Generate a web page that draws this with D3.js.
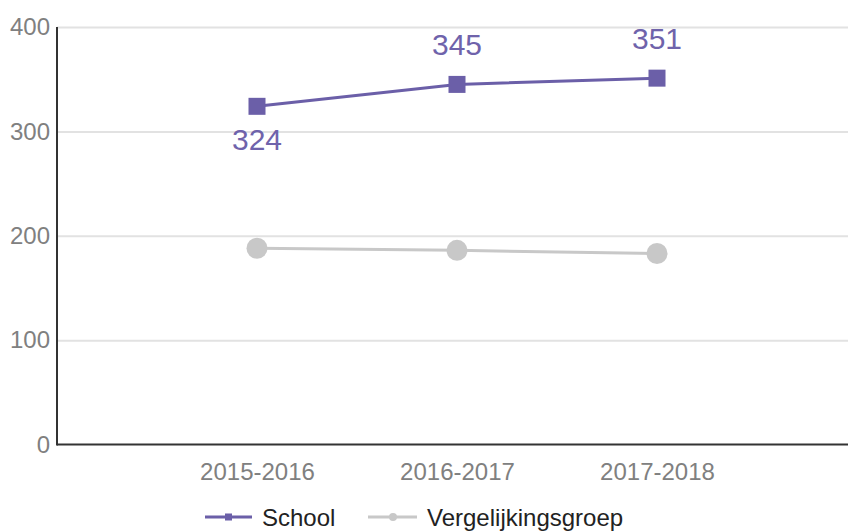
<!DOCTYPE html>
<html>
<head>
<meta charset="utf-8">
<script src="https://cdn.jsdelivr.net/npm/d3@7"></script>
<style>
  body { margin: 0; background: #fff; }
  svg { display: block; font-family: "Liberation Sans", Arial, sans-serif; }
  .grid line { stroke: #e2e2e2; stroke-width: 2; }
  .grid .domain { display: none; }
  .ticks text { fill: #808080; font-size: 24px; }
  .ticks line, .ticks .domain { display: none; }
</style>
</head>
<body>
<svg width="848" height="532"></svg>
<script>
var categories = ["2015-2016", "2016-2017", "2017-2018"];
var schoolValues = [324, 345, 351];
var vergelijkValues = [188, 186, 183];
var yTicks = [0, 100, 200, 300, 400];
var seriesNames = ["School", "Vergelijkingsgroep"];

var purple = "#6b5fa8";
var grey = "#c8c8c8";

var svg = d3.select("svg");

// plot edges (don't call it "top", that's window.top)
var plotL = 57, plotR = 857, plotT = 27, plotB = 444.5;

var x = d3.scalePoint()
    .domain(categories)
    .range([plotL, plotR])
    .padding(1);

var y = d3.scaleLinear()
    .domain([0, 400])
    .range([plotB, plotT]);

// gridlines
svg.append("g")
    .attr("class", "grid")
    .attr("transform", "translate(" + plotL + ",0)")
    .call(d3.axisLeft(y).tickValues(yTicks.slice(1)).tickSize(-(848 - plotL)).tickFormat(""));

// y tick labels
svg.append("g")
    .attr("class", "ticks")
    .attr("transform", "translate(" + plotL + ",0)")
    .call(d3.axisLeft(y).tickValues(yTicks).tickSize(0).tickPadding(7));

// x tick labels
svg.append("g")
    .attr("class", "ticks")
    .attr("transform", "translate(0," + plotB + ")")
    .call(d3.axisBottom(x).tickSize(0).tickPadding(18));

// axis lines
svg.append("line")
    .attr("x1", plotL).attr("x2", plotL)
    .attr("y1", plotT).attr("y2", plotB + 1)
    .attr("stroke", "#333").attr("stroke-width", 2);
svg.append("line")
    .attr("x1", plotL).attr("x2", 848)
    .attr("y1", plotB).attr("y2", plotB)
    .attr("stroke", "#333").attr("stroke-width", 2);

var line = d3.line()
    .x(function(d, i) { return x(categories[i]); })
    .y(function(d) { return y(d); });

// comparison group
svg.append("path")
    .datum(vergelijkValues)
    .attr("fill", "none")
    .attr("stroke", grey)
    .attr("stroke-width", 3)
    .attr("d", line);
svg.selectAll(".vdot")
    .data(vergelijkValues)
    .enter().append("circle")
    .attr("class", "vdot")
    .attr("cx", function(d, i) { return x(categories[i]); })
    .attr("cy", function(d) { return y(d); })
    .attr("r", 10.5)
    .attr("fill", grey);

// school
svg.append("path")
    .datum(schoolValues)
    .attr("fill", "none")
    .attr("stroke", purple)
    .attr("stroke-width", 3)
    .attr("d", line);
svg.selectAll(".sdot")
    .data(schoolValues)
    .enter().append("rect")
    .attr("class", "sdot")
    .attr("x", function(d, i) { return x(categories[i]) - 8.5; })
    .attr("y", function(d) { return y(d) - 8.5; })
    .attr("width", 17)
    .attr("height", 17)
    .attr("fill", purple);

// labels: first one below the point, rest above
svg.selectAll(".slabel")
    .data(schoolValues)
    .enter().append("text")
    .attr("class", "slabel")
    .attr("x", function(d, i) { return x(categories[i]); })
    .attr("y", function(d, i) { return i == 0 ? y(d) + 44 : y(d) - 29; })
    .attr("text-anchor", "middle")
    .attr("font-size", "30px")
    .attr("fill", "#6f63ab")
    .text(function(d) { return d; });

// legend
var lg = svg.append("g").attr("class", "legend");
var s = lg.append("g");
s.append("line").attr("x1", 205).attr("x2", 252).attr("y1", 517).attr("y2", 517)
    .attr("stroke", purple).attr("stroke-width", 3);
s.append("rect").attr("x", 225).attr("y", 513.5).attr("width", 7).attr("height", 7).attr("fill", purple);
s.append("text").attr("x", 262).attr("y", 526).attr("font-size", "24px").attr("fill", "#222").text(seriesNames[0]);

var v = lg.append("g");
v.append("line").attr("x1", 368).attr("x2", 417).attr("y1", 517).attr("y2", 517)
    .attr("stroke", grey).attr("stroke-width", 3);
v.append("circle").attr("cx", 393).attr("cy", 517).attr("r", 4).attr("fill", grey);
v.append("text").attr("x", 427).attr("y", 526).attr("font-size", "24px").attr("fill", "#222").text(seriesNames[1]);
</script>
</body>
</html>
